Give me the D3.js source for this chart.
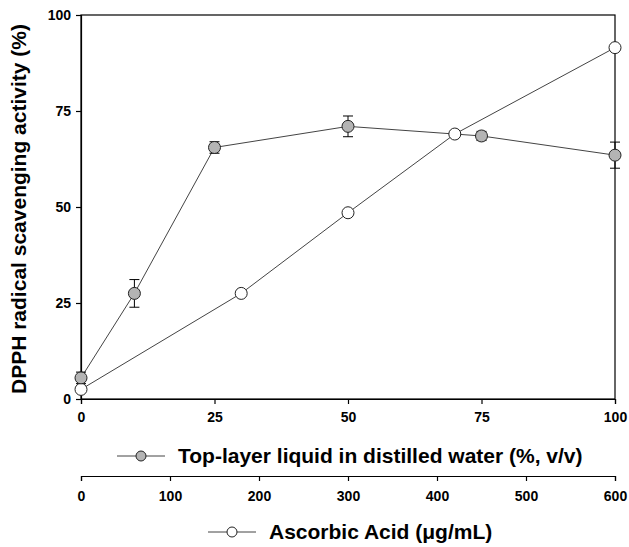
<!DOCTYPE html>
<html>
<head>
<meta charset="utf-8">
<script src="https://cdn.jsdelivr.net/npm/d3@7"></script>
<style>
  body { margin: 0; background: #fff; }
  text { font-family: Arial, "Liberation Sans", sans-serif; font-weight: bold; }
</style>
</head>
<body>
<div id="chart"></div>
<script>
// Top-layer liquid in distilled water (%, v/v)
const topX = [0, 10, 25, 50, 75, 100];
const topY = [5.5, 27.5, 65.5, 71, 68.5, 63.5];
const topErr = [1.5, 3.6, 1.5, 2.7, 1.2, 3.4];

// Ascorbic acid (ug/mL)
const ascX = [0, 180, 300, 420, 600];
const ascY = [2.5, 27.5, 48.5, 69, 91.5];

const yTicks = [0, 25, 50, 75, 100];
const xTicks = [0, 25, 50, 75, 100];
const x2Ticks = [0, 100, 200, 300, 400, 500, 600];

const W = 629, H = 547;
const plotL = 81, plotR = 615, plotT = 15, plotB = 399;

const svg = d3.select("#chart").append("svg")
    .attr("width", W)
    .attr("height", H);

const x = d3.scaleLinear().domain([0, 100]).range([plotL, plotR]);
const x2 = d3.scaleLinear().domain([0, 600]).range([plotL, plotR]);
const y = d3.scaleLinear().domain([0, 100]).range([plotB, plotT]);

// frame
svg.append("rect")
    .attr("x", plotL).attr("y", plotT)
    .attr("width", plotR - plotL).attr("height", plotB - plotT)
    .attr("fill", "none").attr("stroke", "#000").attr("stroke-width", 1.2);

// axes
const yAxis = svg.append("g")
    .attr("transform", `translate(${plotL},0)`)
    .call(d3.axisLeft(y).tickValues(yTicks).tickSize(5).tickPadding(5));
const xAxis = svg.append("g")
    .attr("transform", `translate(0,${plotB})`)
    .call(d3.axisBottom(x).tickValues(xTicks).tickSize(5).tickPadding(8));
const x2Axis = svg.append("g")
    .attr("transform", "translate(0,476)")
    .call(d3.axisBottom(x2).tickValues(x2Ticks).tickSize(5).tickPadding(10));

[yAxis, xAxis, x2Axis].forEach(a => {
    a.select(".domain").attr("stroke-width", 1.2);
    a.selectAll(".tick line").attr("stroke-width", 1.2);
    a.selectAll("text").style("font-size", "14px").attr("fill", "#000");
});

// y axis title
svg.append("text")
    .attr("transform", `translate(26,${(plotT + plotB) / 2 + 2}) rotate(-90)`)
    .style("text-anchor", "middle")
    .style("font-size", "21px")
    .text("DPPH radical scavenging activity (%)");

const lineColor = "#444";

// ascorbic line
const ascData = ascX.map((d, i) => ({x: d, y: ascY[i]}));
svg.append("path")
    .datum(ascData)
    .attr("fill", "none")
    .attr("stroke", lineColor)
    .attr("stroke-width", 1)
    .attr("d", d3.line().x(d => x2(d.x)).y(d => y(d.y)));

// top-layer line
const topData = topX.map((d, i) => ({x: d, y: topY[i], e: topErr[i]}));
svg.append("path")
    .datum(topData)
    .attr("fill", "none")
    .attr("stroke", lineColor)
    .attr("stroke-width", 1)
    .attr("d", d3.line().x(d => x(d.x)).y(d => y(d.y)));

// error bars
const eb = svg.selectAll(".err")
    .data(topData)
    .enter().append("g");
eb.append("line")
    .attr("x1", d => x(d.x)).attr("x2", d => x(d.x))
    .attr("y1", d => y(d.y - d.e)).attr("y2", d => y(d.y + d.e))
    .attr("stroke", "#000");
eb.append("line")
    .attr("x1", d => x(d.x) - 5).attr("x2", d => x(d.x) + 5)
    .attr("y1", d => y(d.y + d.e)).attr("y2", d => y(d.y + d.e))
    .attr("stroke", "#000");
eb.append("line")
    .attr("x1", d => x(d.x) - 5).attr("x2", d => x(d.x) + 5)
    .attr("y1", d => y(d.y - d.e)).attr("y2", d => y(d.y - d.e))
    .attr("stroke", "#000");

// markers
svg.selectAll(".asc")
    .data(ascData)
    .enter().append("circle")
    .attr("cx", d => x2(d.x))
    .attr("cy", d => y(d.y))
    .attr("r", 6)
    .attr("fill", "#fff")
    .attr("stroke", "#222");

svg.selectAll(".top")
    .data(topData)
    .enter().append("circle")
    .attr("cx", d => x(d.x))
    .attr("cy", d => y(d.y))
    .attr("r", 6)
    .attr("fill", "#b4b4b4")
    .attr("stroke", "#222");

// legends
function legend(cx, cy, fill, label) {
    svg.append("line")
        .attr("x1", cx - 24).attr("x2", cx + 24)
        .attr("y1", cy).attr("y2", cy)
        .attr("stroke", lineColor);
    svg.append("circle")
        .attr("cx", cx).attr("cy", cy).attr("r", 5)
        .attr("fill", fill).attr("stroke", "#222");
    svg.append("text")
        .attr("x", cx + 37).attr("y", cy + 7)
        .style("font-size", "21px")
        .text(label);
}
legend(141, 456, "#b4b4b4", "Top-layer liquid in distilled water (%, v/v)");
legend(232, 532, "#fff", "Ascorbic Acid (\u03BCg/mL)");
</script>
</body>
</html>
